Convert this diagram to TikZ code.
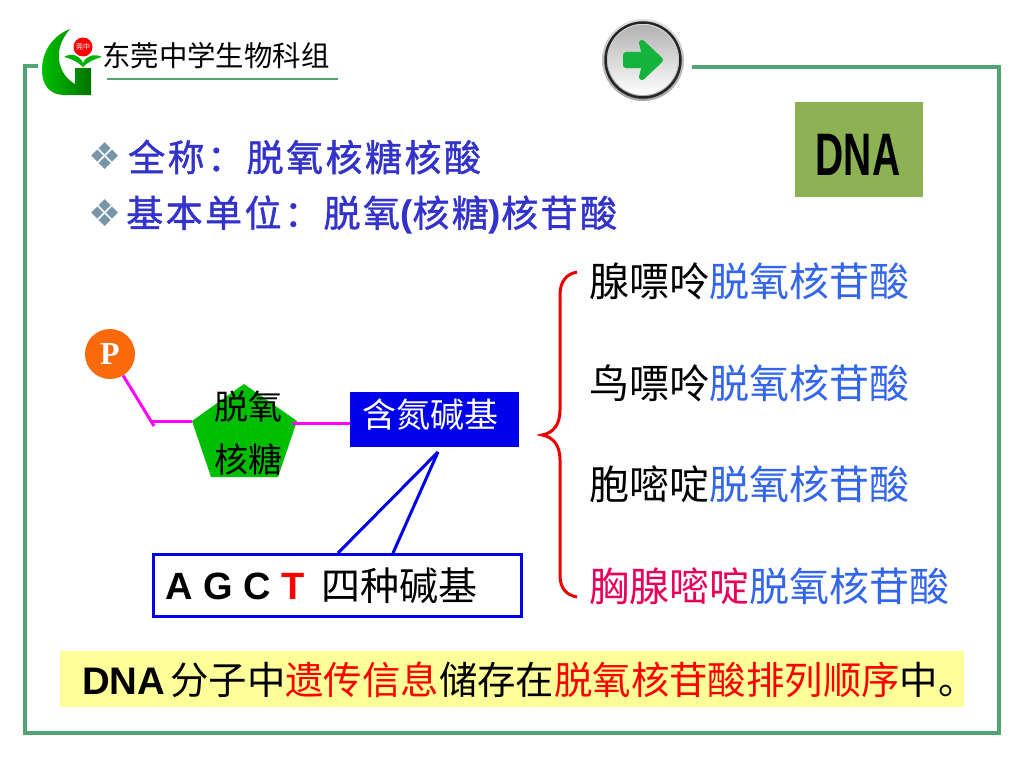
\documentclass[tikz,border=0pt]{standalone}
\usepackage{fontspec}
\usetikzlibrary{positioning}
\setmainfont{Liberation Sans}
\newfontfamily\cjk{Noto Sans CJK SC}
\newfontfamily\cjktitle[FakeBold=1.2,LetterSpace=6.7]{Noto Sans CJK SC}
\newfontfamily\dingfont{DejaVu Sans}
\newfontfamily\dnafont[FakeStretch=0.65]{Liberation Sans}
\newfontfamily\pfont{Liberation Serif}
\definecolor{framegreen}{RGB}{80,165,115}
\definecolor{titleblue}{RGB}{51,51,204}
\definecolor{acidblue}{RGB}{51,102,235}
\definecolor{bulletgray}{RGB}{120,150,170}
\definecolor{olivebox}{RGB}{140,178,84}
\definecolor{bracered}{RGB}{235,0,0}
\definecolor{thymine}{RGB}{230,0,90}
\definecolor{bandyellow}{RGB}{255,255,153}
\definecolor{sugargreen}{RGB}{0,190,0}
\definecolor{porange}{RGB}{250,105,10}
\definecolor{bondpink}{RGB}{255,0,255}
\definecolor{baseblue}{RGB}{0,0,235}
\definecolor{arrowgreen}{RGB}{20,180,60}
\tikzset{
  cn/.style={inner sep=0pt,font=\fontsize{#1}{#1}\selectfont\cjk},
  title/.style={inner sep=0pt,anchor=west,text=titleblue,font=\fontsize{37}{37}\selectfont\cjktitle},
  acid/.style={inner sep=0pt,anchor=west,font=\fontsize{40}{40}\selectfont\cjk},
  bullet/.style={inner sep=0pt,text=bulletgray,font=\fontsize{37}{37}\selectfont\dingfont},
  bond/.style={draw=bondpink,line width=3pt},
  bluebond/.style={draw=baseblue,line width=3pt},
}
\begin{document}
\begin{tikzpicture}[x=1pt,y=-1pt]
\useasboundingbox (0,0) rectangle (1024,768);
\draw [framegreen,line width=3.5pt] (38,66) -- (25,66) -- (25,733) -- (999,733) -- (999,67) -- (692,67);
\draw [framegreen,line width=2.5pt] (107,79) -- (338,79);
\shade [left color=green!75!black,right color=green!45!black] (70,29) .. controls (52,36) and (42,52) .. (42,70) .. controls (42,85) and (50,95) .. (64,95) -- (91,95) -- (91,68) -- (75,68) -- (75,84) .. controls (60,76) and (50,52) .. (70,29);
\fill [green!70!black] (64,57) .. controls (72,52) and (80,56) .. (83,63) .. controls (86,56) and (94,53) .. (102,57) .. controls (94,59) and (88,62) .. (83,67) .. controls (78,62) and (72,59) .. (64,57);
\node [circle,fill=red,text=white,minimum size=19pt,inner sep=0pt,font=\fontsize{7}{7}\selectfont\cjk] (flower) at (83,47) {莞中};
\node [cn=28.4,anchor=west] (school) at (102,56) {东莞中学生物科组};
\shade [top color=gray!25,bottom color=gray!70] (643,60) circle (41);
\draw [gray!30!black,line width=2.5pt] (643,60) circle (37.5);
\shade [top color=gray!60,bottom color=white] (643,60) circle (35);
\draw [arrowgreen,fill=arrowgreen,line width=6pt,line join=round] (626,55) -- (645,55) -- (642,43) -- (660,60) -- (642,77) -- (645,65) -- (626,65) -- cycle;
\node [fill=olivebox,minimum width=128pt,minimum height=95pt,inner sep=0pt] (dnabox) at (859,149.5) {};
\node [inner sep=0pt,font=\fontsize{60}{60}\selectfont\dnafont\bfseries] (dna) at (858,155) {DNA};
\node [bullet] (bulleta) at (105,156) {❖};
\node [bullet] (bulletb) at (105,213) {❖};
\node [title] (fullname) at (128,157) {全称：脱氧核糖核酸};
\node [title] (unit) at (126,215) {基本单位：脱氧{\bfseries\rmfamily(}核糖{\bfseries\rmfamily)}核苷酸};
\node [acid] (adenine) at (589,281) {腺嘌呤\textcolor{acidblue}{脱氧核苷酸}};
\node [acid] (guanine) at (589,383) {鸟嘌呤\textcolor{acidblue}{脱氧核苷酸}};
\node [acid] (cytosine) at (589,484) {胞嘧啶\textcolor{acidblue}{脱氧核苷酸}};
\node [acid] (thy) at (589,586) {\textcolor{thymine}{胸腺嘧啶}\textcolor{acidblue}{脱氧核苷酸}};
\draw [bracered,line width=3pt] (577,272) .. controls (566,274) and (560,282) .. (560,295) -- (560,410) .. controls (560,425) and (553,433) .. (542,435) .. controls (553,437) and (560,445) .. (560,460) -- (560,575) .. controls (560,588) and (566,595) .. (577,597);
\node [circle,fill=porange,text=white,minimum size=50pt,inner sep=0pt,font=\fontsize{32}{32}\selectfont\pfont\bfseries] (phos) at (110,354) {P};
\fill [sugargreen] (244,384) -- (297,421) -- (278,477) -- (211,477) -- (192,421) -- cycle;
\node [cn=34] (sugartop) at (248,407) {脱氧};
\node [cn=34] (sugarbot) at (248,460) {核糖};
\coordinate (bend) at (154,426);
\coordinate (bendr) at (152,421);
\coordinate (sugarl) at (192,421);
\coordinate (sugarr) at (292,423);
\node [fill=baseblue,minimum width=169pt,minimum height=55pt,inner sep=0pt] (base) at (434.5,419.5) {};
\node [cn=34,text=white] (basetext) at (430,415) {含氮碱基};
\draw [bond] (phos) -- (bend);
\draw [bond] (bendr) -- (sugarl);
\draw [bond] (sugarr) -- (base.west |- sugarr);
\node [draw=baseblue,line width=3pt,minimum width=368pt,minimum height=62pt,inner sep=0pt] (four) at (337,585) {};
\node [inner sep=0pt,anchor=west,font=\fontsize{38}{38}\selectfont\bfseries] (letters) at (165,586) {A G C \textcolor{red}{T}};
\node [cn=39,right=17pt of letters] (fourtext) {四种碱基};
\coordinate (apex) at (438,452);
\draw [bluebond] (apex) -- (338,553);
\draw [bluebond] (apex) -- (393,553);
\node [fill=bandyellow,minimum width=904pt,minimum height=56pt,inner sep=0pt] (band) at (512,679) {};
\node [inner sep=0pt,anchor=west,font=\fontsize{38.4}{38.4}\selectfont] (info) at (82,680) {\textbf{DNA}\hspace{5pt}{\cjk 分子中\textcolor{red}{遗传信息}储存在\textcolor{red}{脱氧核苷酸排列顺序}中。}};
\end{tikzpicture}
\end{document}
